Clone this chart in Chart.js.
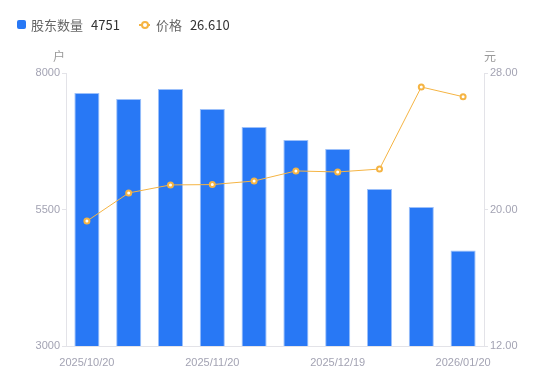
<!DOCTYPE html>
<html lang="zh">
<head>
  <meta charset="UTF-8">
  <title>股东数量 / 价格</title>
  <script src="https://cdn.jsdelivr.net/npm/chart.js"></script>
  <style>
    html, body { margin: 0; padding: 0; background: #fff; }
    body { width: 550px; height: 381px; position: relative; overflow: hidden;
           font-family: 'Noto Sans CJK SC', 'Noto Sans', Arial, sans-serif; }
    .legend { position: absolute; top: 15px; left: 17px; display: flex; align-items: center;
              font-size: 13px; z-index: 2; }
    .legend .item { display: flex; align-items: center; margin-right: 19px; }
    .legend .name { color: #666; margin-right: 8px; }
    .legend .val { color: #333; }
    .sq { width: 9px; height: 9px; background: #2878f5; border-radius: 2px; margin-right: 5px; }
    .ln { width: 11px; height: 2px; background: #f5b443; position: relative; margin-right: 6px; }
    .ln::after { content: ''; position: absolute; left: 2px; top: -3px; width: 4px; height: 4px;
                 border: 2px solid #f5b443; border-radius: 50%; background: #fff; }
    #wrap { position: absolute; inset: 0; }
  </style>
</head>
<body>
  <div class="legend">
    <div class="item"><span class="sq"></span><span class="name">股东数量</span><span class="val" id="v1"></span></div>
    <div class="item"><span class="ln"></span><span class="name">价格</span><span class="val" id="v2"></span></div>
  </div>
  <div id="wrap"><canvas id="chart" width="550" height="381"></canvas></div>
  <script>
    // data
    const dates = ['2025/10/20', '2025/10/31', '2025/11/10', '2025/11/20', '2025/11/28',
                   '2025/12/10', '2025/12/19', '2025/12/31', '2026/01/09', '2026/01/20'];
    const holders = [7634, 7524, 7707, 7341, 7011, 6773, 6608, 5875, 5546, 4751];
    const price = [19.32, 20.97, 21.44, 21.46, 21.67, 22.26, 22.20, 22.37, 27.18, 26.61];
    const shownDates = [0, 3, 6, 9];

    document.getElementById('v1').textContent = holders[holders.length - 1];
    document.getElementById('v2').textContent = price[price.length - 1].toFixed(3);

    const axisColor = '#e3e3e8';
    const tickColor = '#a3a3b3';
    const tickFont = { family: 'Liberation Sans, Arial, sans-serif', size: 11 };

    // unit titles above the two value axes
    const unitTitles = {
      id: 'unitTitles',
      afterDraw(chart) {
        const { ctx, chartArea } = chart;
        ctx.save();
        ctx.fillStyle = '#999';
        ctx.font = '12px "Noto Sans CJK SC", sans-serif';
        ctx.textAlign = 'center';
        ctx.textBaseline = 'middle';
        ctx.fillText('户', chartArea.left - 7, chartArea.top - 17);
        ctx.fillText('元', chartArea.right + 6, chartArea.top - 17);
        ctx.restore();
      }
    };

    new Chart(document.getElementById('chart'), {
      data: {
        labels: dates,
        datasets: [
          {
            type: 'line',
            label: '价格',
            data: price,
            yAxisID: 'y1',
            borderColor: '#f5b443',
            borderWidth: 1,
            pointRadius: 2.5,
            pointBorderWidth: 2,
            pointBackgroundColor: '#fff',
            pointBorderColor: '#f5b443',
            tension: 0,
            order: 0
          },
          {
            type: 'bar',
            label: '股东数量',
            data: holders,
            yAxisID: 'y',
            backgroundColor: '#2878f5',
            borderColor: '#9cc0fa',
            borderWidth: { top: 1, left: 1, right: 1, bottom: 0 },
            barPercentage: 0.6,
            categoryPercentage: 1,
            order: 1
          }
        ]
      },
      options: {
        responsive: false,
        animation: false,
        layout: { padding: { top: 73, left: 0, right: 0, bottom: 0 } },
        plugins: { legend: { display: false }, tooltip: { enabled: false } },
        scales: {
          x: {
            offset: true,
            grid: { display: false },
            border: { color: axisColor },
            ticks: {
              autoSkip: false, maxRotation: 0, color: tickColor, font: tickFont, padding: 2,
              callback: (v, i) => shownDates.includes(i) ? dates[i] : null
            },
            afterFit: s => { s.height = 35; }
          },
          y: {
            position: 'left',
            min: 3000, max: 8000,
            grid: { drawOnChartArea: false, drawTicks: true, tickLength: 4, color: axisColor },
            border: { color: axisColor },
            ticks: { stepSize: 2500, color: tickColor, font: tickFont, padding: 2,
                     callback: v => String(v) },
            afterFit: s => { s.width = 66; }
          },
          y1: {
            position: 'right',
            min: 12, max: 28,
            grid: { drawOnChartArea: false, drawTicks: true, tickLength: 4, color: axisColor },
            border: { color: axisColor },
            ticks: { stepSize: 8, color: tickColor, font: tickFont, padding: 2,
                     callback: v => Number(v).toFixed(2) },
            afterFit: s => { s.width = 66; }
          }
        }
      },
      plugins: [unitTitles]
    });
  </script>
</body>
</html>
